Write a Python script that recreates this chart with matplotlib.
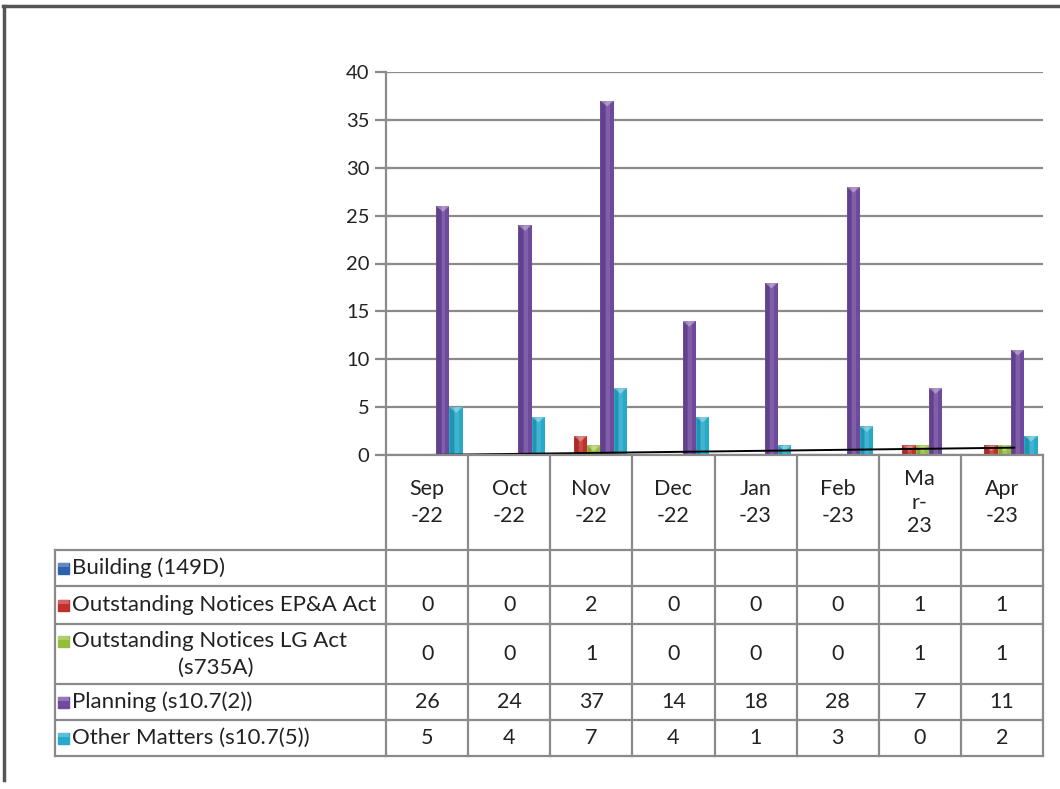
import matplotlib.pyplot as plt
import numpy as np
from matplotlib.lines import Line2D
from matplotlib.patches import Rectangle

plt.rcParams['font.family'] = ['Lato', 'DejaVu Sans']

months = ["Sep\n-22", "Oct\n-22", "Nov\n-22", "Dec\n-22", "Jan\n-23", "Feb\n-23", "Ma\nr-\n23", "Apr\n-23"]
series = ["Building (149D)", "Outstanding Notices EP&A Act",
          "Outstanding Notices LG Act\n(s735A)", "Planning (s10.7(2))",
          "Other Matters (s10.7(5))"]
building = [None] * 8
epa_act = [0, 0, 2, 0, 0, 0, 1, 1]
lg_act = [0, 0, 1, 0, 0, 0, 1, 1]
planning = [26, 24, 37, 14, 18, 28, 7, 11]
other = [5, 4, 7, 4, 1, 3, 0, 2]
colors = ["#2f62ad", "#c0312e", "#94bd3a", "#6f4a9c", "#27a9c9"]
all_vals = [building, epa_act, lg_act, planning, other]

W, H = 1060, 789
fig = plt.figure(figsize=(W / 100, H / 100), dpi=100)

# pixel helpers
def fx(px):
    return px / W

def fy(py):
    return 1 - py / H

x0, x1, ytop, ybase = 386, 1043, 72, 455
ax = fig.add_axes([fx(x0), fy(ybase), fx(x1) - fx(x0), fy(ytop) - fy(ybase)])
ax.set_xlim(-0.5, 7.5)
ax.set_ylim(0, 40)
ax.set_yticks(range(0, 41, 5))
ax.set_xticks([])
ax.grid(axis='y', color='#8a8a8a', lw=1.6)
ax.set_axisbelow(True)
for s in ['top', 'right', 'bottom']:
    ax.spines[s].set_visible(False)
ax.spines['left'].set_color('#8a8a8a')
ax.spines['left'].set_linewidth(1.6)
ax.tick_params(axis='y', length=8, width=1.6, color='#8a8a8a', labelsize=14.5, pad=4,
               labelcolor='#222222')

w = 0.162
x = np.arange(8)
for i, (vals, c) in enumerate(zip(all_vals, colors)):
    for xi, v in zip(x, vals):
        if not v:
            continue
        xc = xi + (i - 2) * w + 0.03
        ax.bar(xc, v, width=w, color=c, edgecolor='none', zorder=3)
        # shading for a rounded look
        ax.bar(xc - w * 0.3, v, width=w * 0.25, color='black', alpha=0.12, edgecolor='none', zorder=4)
        ax.bar(xc + w * 0.05, v, width=w * 0.3, color='white', alpha=0.12, edgecolor='none', zorder=4)
        tri_h = 0.6
        ax.fill([xc - w / 2, xc + w / 2, xc], [v, v, v - tri_h], color='white', alpha=0.35, zorder=5, lw=0)

# linear trend of the LG Act notices
a, b = np.polyfit(x, lg_act, 1)
tx = np.array([0, 7.15])
ax.plot(tx, a * tx + b, color='black', lw=1.4, zorder=6)

# data table
ov = fig.add_axes([0, 0, 1, 1])
ov.set_xlim(0, W)
ov.set_ylim(H, 0)
ov.axis('off')
gc = '#8a8a8a'
tc = '#222222'
fs = 16
lab_x0 = 55
col_w = (x1 - x0) / 8
row_y = [550, 586, 624, 684, 720, 756]

ov.plot([x0, x1], [ybase, ybase], color=gc, lw=1.6)
for yy in row_y:
    ov.plot([lab_x0, x1], [yy, yy], color=gc, lw=1.6)
for k in range(9):
    xx = x0 + k * col_w
    ov.plot([xx, xx], [ybase, row_y[-1]], color=gc, lw=1.6)
ov.plot([lab_x0, lab_x0], [row_y[0], row_y[-1]], color=gc, lw=1.6)

for k, m in enumerate(months):
    ls = 1.25 if m.count('\n') > 1 else 1.45
    ov.text(x0 + (k + 0.5) * col_w, (ybase + row_y[0]) / 2 + 0, m, ha='center', va='center',
            fontsize=fs - 0.5, linespacing=ls, color=tc)

for r, (name, vals, c) in enumerate(zip(series, all_vals, colors)):
    yc = (row_y[r] + row_y[r + 1]) / 2
    if '\n' in name:
        first, second = name.split('\n')
        ov.text(72, yc - 13, first, ha='left', va='center', fontsize=fs, color=tc)
        ov.text(216, yc + 14, second, ha='center', va='center', fontsize=fs, color=tc)
        ky = yc - 13
    else:
        ov.text(72, yc, name, ha='left', va='center', fontsize=fs, color=tc)
        ky = yc
    ov.add_patch(Rectangle((58, ky - 5.5), 11, 11, color=c))
    ov.add_patch(Rectangle((58, ky - 5.5), 11, 4, color='white', alpha=0.25, lw=0))
    for k, v in enumerate(vals):
        if v is None:
            continue
        ov.text(x0 + (k + 0.5) * col_w, yc, str(v), ha='center', va='center', fontsize=fs - 0.5, color=tc)

# outer frame
fig.add_artist(Line2D([fx(3), fx(W)], [fy(6), fy(6)], color='#555555', lw=2.5))
fig.add_artist(Line2D([fx(4), fx(4)], [fy(6), fy(780)], color='#555555', lw=2.5))

fig.savefig('out.png', dpi=100)
